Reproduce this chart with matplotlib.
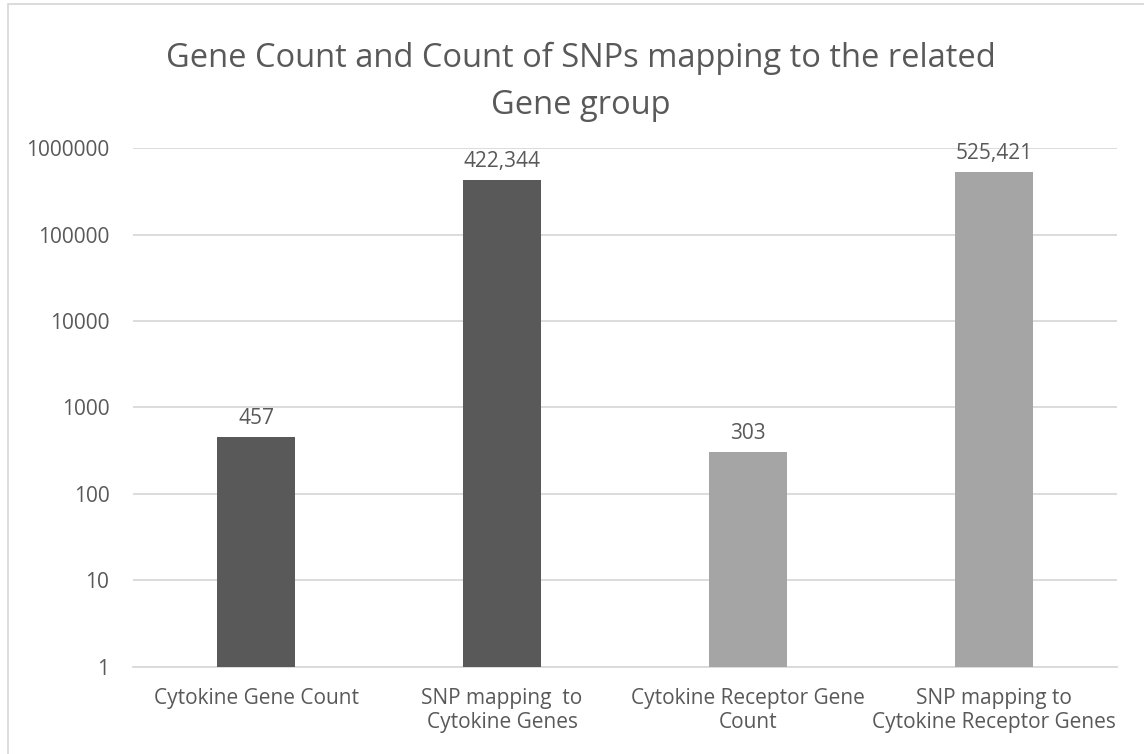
import numpy as np
import matplotlib.pyplot as plt
from matplotlib.patches import Rectangle

# values for the four groups
categories = ['Cytokine Gene Count', 'SNP mapping  to\nCytokine Genes',
              'Cytokine Receptor Gene\nCount', 'SNP mapping to\nCytokine Receptor Genes']
counts = [457, 422344, 303, 525421]
value_labels = ['457', '422,344', '303', '525,421']
bar_colors = ['#595959', '#595959', '#A5A5A5', '#A5A5A5']
tick_values = [1, 10, 100, 1000, 10000, 100000, 1000000]

text_color = '#595959'
grid_color = '#D9D9D9'
plt.rcParams['font.family'] = ['Open Sans', 'DejaVu Sans']

fig = plt.figure(figsize=(11.44, 7.54), dpi=100)
ax = fig.add_axes([0.1163, 0.1154, 0.8601, 0.6883])

x = np.arange(len(categories))
ax.bar(x, [c - 1 for c in counts], bottom=1, width=0.317, color=bar_colors, zorder=3)

ax.set_yscale('log')
ax.set_ylim(1, 1000000)
ax.set_xlim(-0.5, len(categories) - 0.5)
ax.set_yticks(tick_values)
ax.set_yticklabels([str(v) for v in tick_values])
ax.minorticks_off()
ax.yaxis.grid(True, color=grid_color, linewidth=1.3, zorder=0)
ax.set_axisbelow(True)

for s in ['top', 'right', 'left']:
    ax.spines[s].set_visible(False)
ax.spines['bottom'].set_color(grid_color)
ax.spines['bottom'].set_linewidth(1.3)

ax.tick_params(axis='both', length=0, labelsize=15, labelcolor=text_color)
ax.tick_params(axis='y', pad=17)
ax.tick_params(axis='x', pad=15)
ax.set_xticks(x)
ax.set_xticklabels(categories, linespacing=1.2)

for xi, c, lbl in zip(x, counts, value_labels):
    ax.annotate(lbl, (xi, c), xytext=(0, 6), textcoords='offset points',
                ha='center', va='bottom', fontsize=15, color=text_color)

fig.text(0.508, 0.945, 'Gene Count and Count of SNPs mapping to the related\nGene group',
         ha='center', va='top', fontsize=23.5, color=text_color, linespacing=1.58)

# outer chart border
fig.patches.append(Rectangle((8 / 1144, -0.1), 1.2, 1.1 - 4 / 754,
                             transform=fig.transFigure, fill=False,
                             edgecolor=grid_color, linewidth=1.3))

fig.savefig('out.png', dpi=100)
